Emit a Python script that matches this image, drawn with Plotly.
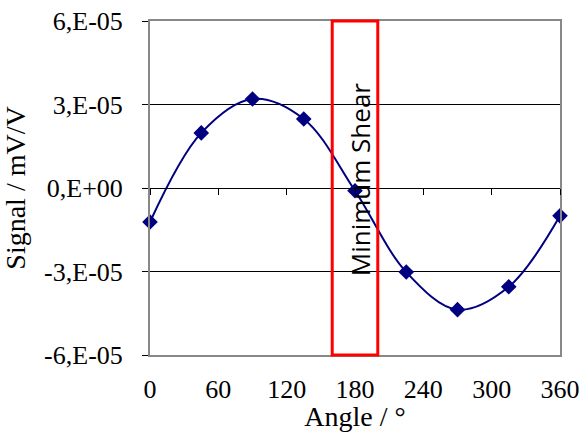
import plotly.graph_objects as go

angles = [0, 45, 90, 135, 180, 225, 270, 315, 360]
signal = [-1.22e-5, 1.98e-5, 3.2e-5, 2.48e-5, -0.1e-5, -3.02e-5, -4.37e-5, -3.55e-5, -1.0e-5]

y_tick_vals = [-6e-5, -3e-5, 0, 3e-5, 6e-5]
y_tick_text = ["-6,E-05", "-3,E-05", "0,E+00", "3,E-05", "6,E-05"]
x_tick_vals = [0, 60, 120, 180, 240, 300, 360]

band_x = [160, 200]
band_label = "Minimum Shear"

serif = "Liberation Serif"

fig = go.Figure()
fig.add_trace(go.Scatter(
    x=angles, y=signal, mode="lines+markers",
    line=dict(color="#000080", width=2, shape="spline", smoothing=1),
    marker=dict(symbol="diamond", size=12, color="#000080"),
    showlegend=False, cliponaxis=False,
))
# invisible trace for the zero-crossing axis
fig.add_trace(go.Scatter(x=[0, 360], y=[0, 0], xaxis="x2", mode="lines",
                         line=dict(width=0), showlegend=False, hoverinfo="skip"))

fig.add_shape(type="rect", xref="x", yref="paper", x0=band_x[0], x1=band_x[1],
              y0=0, y1=1, line=dict(color="#FF0000", width=3), layer="above")
fig.add_annotation(x=(band_x[0] + band_x[1]) / 2 + 4, y=0.3e-5, xref="x", yref="y",
                   text=band_label, textangle=-90, showarrow=False,
                   font=dict(family="Open Sans", size=26, color="black"))

fig.update_layout(
    width=582, height=432,
    margin=dict(l=150, r=22, t=21, b=77),
    plot_bgcolor="white", paper_bgcolor="white",
    xaxis=dict(range=[0, 360], tickvals=x_tick_vals, showgrid=False, zeroline=False,
               showline=True, linecolor="#888888", linewidth=2, mirror=True,
               ticks="", automargin=False, ticklabelstandoff=10,
               ticklabeloverflow="allow",
               tickfont=dict(family=serif, size=26, color="black"),
               title=dict(text="Angle / °", font=dict(family=serif, size=28, color="black"),
                          standoff=9)),
    xaxis2=dict(range=[0, 360], overlaying="x", anchor="free", position=0.5,
                tickvals=x_tick_vals, showticklabels=False, ticks="outside", ticklen=6,
                tickcolor="black", showline=True, linecolor="black", linewidth=1,
                showgrid=False, zeroline=False, automargin=False),
    yaxis=dict(range=[-6e-5, 6e-5], tickvals=y_tick_vals, ticktext=y_tick_text,
               showgrid=True, gridcolor="black", gridwidth=1, zeroline=False,
               showline=True, linecolor="#888888", linewidth=2, mirror=True,
               ticks="outside", ticklen=6, tickcolor="black", automargin=False,
               ticklabelstandoff=14, ticklabeloverflow="allow",
               tickfont=dict(family=serif, size=26, color="black"),
               title=dict(text="Signal / mV/V", font=dict(family=serif, size=28, color="black"),
                          standoff=15)),
)

fig.write_html("out.html", config={"displayModeBar": False},
               post_script="document.body.style.margin='0';document.body.style.overflow='hidden';")
